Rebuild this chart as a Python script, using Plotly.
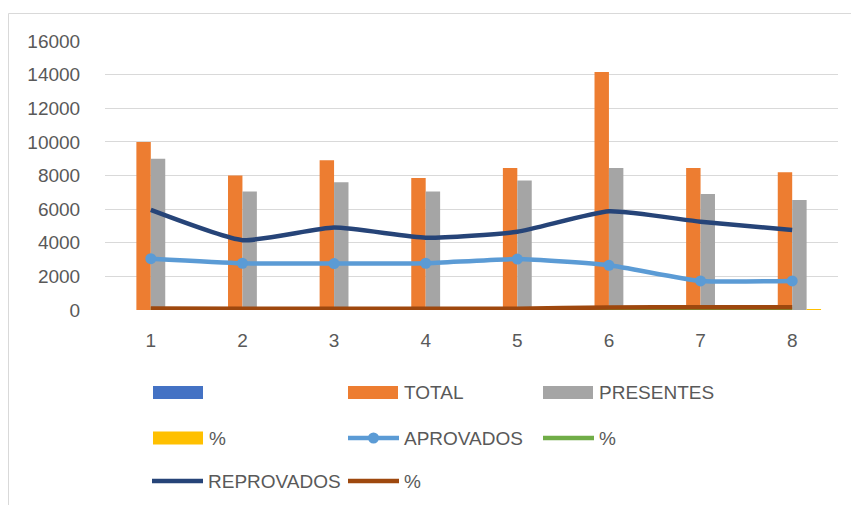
import plotly.graph_objects as go

# ---------------- data ----------------
categories = ["1", "2", "3", "4", "5", "6", "7", "8"]
serie_sem_nome = [0, 0, 0, 0, 0, 0, 0, 0]
total = [10000, 8000, 8900, 7850, 8450, 14150, 8450, 8200]
presentes = [9000, 7050, 7600, 7050, 7700, 8450, 6900, 6550]
pct_presentes = [0.90, 0.88, 0.85, 0.90, 0.91, 0.60, 0.82, 0.80]
aprovados = [3050, 2780, 2760, 2780, 3030, 2660, 1730, 1730]
pct_aprovados = [34, 39, 36, 39, 39, 31, 25, 26]
reprovados = [5950, 4150, 4900, 4300, 4650, 5870, 5250, 4760]
pct_reprovados = [90, 70, 70, 70, 80, 150, 160, 160]
y_ticks = [0, 2000, 4000, 6000, 8000, 10000, 12000, 14000, 16000]

names = ["", "TOTAL", "PRESENTES", "%", "APROVADOS", "%", "REPROVADOS", "%"]
colors = ["#4472C4", "#ED7D31", "#A5A5A5", "#FFC000", "#5B9BD5", "#70AD47", "#264478", "#9E480E"]

W, H = 851, 505
L, R, T, B = 105, 13, 41, 195
PW, PH = W - L - R, H - T - B

def px(x):
    return (x - L) / PW

def py(y):
    return (H - B - y) / PH

fig = go.Figure()

bar_series = [serie_sem_nome, total, presentes, pct_presentes]
for i, vals in enumerate(bar_series):
    fig.add_trace(go.Bar(x=categories, y=vals, name=names[i],
                         marker=dict(color=colors[i], line=dict(width=0)),
                         showlegend=False))

line_series = [(4, aprovados, True), (5, pct_aprovados, False),
               (6, reprovados, False), (7, pct_reprovados, False)]
for idx, vals, mk in line_series:
    fig.add_trace(go.Scatter(x=categories, y=vals, name=names[idx],
                             mode="lines+markers" if mk else "lines",
                             line=dict(color=colors[idx], width=4.5,
                                       shape="spline", smoothing=0.5),
                             marker=dict(size=11, color=colors[idx]),
                             showlegend=False))

font_family = "Liberation Sans, Arial, sans-serif"
txt_color = "#595959"

shapes = []
annotations = []

# chart border
shapes.append(dict(type="rect", xref="paper", yref="paper",
                   x0=px(8.5), x1=px(880), y0=py(530), y1=py(13.5),
                   line=dict(color="#D9D9D9", width=1), fillcolor="rgba(0,0,0,0)",
                   layer="below"))

# custom legend (Excel style)
legend_items = [
    ("bar", 153, 392.5, 0), ("bar", 348, 392.5, 1), ("bar", 543, 392.5, 2),
    ("bar", 153, 438, 3), ("mline", 346, 438, 4), ("line", 541, 438, 5),
    ("line", 150, 481, 6), ("line", 346, 481, 7),
]
for kind, x0, yc, idx in legend_items:
    c = colors[idx]
    if kind == "bar":
        shapes.append(dict(type="rect", xref="paper", yref="paper",
                           x0=px(x0), x1=px(x0 + 50), y0=py(yc + 6.5), y1=py(yc - 6.5),
                           fillcolor=c, line=dict(width=0)))
        tx = x0 + 55
    else:
        shapes.append(dict(type="line", xref="paper", yref="paper",
                           x0=px(x0 + 2), x1=px(x0 + 53), y0=py(yc), y1=py(yc),
                           line=dict(color=c, width=4.5)))
        if kind == "mline":
            shapes.append(dict(type="circle", xref="paper", yref="paper",
                               x0=px(x0 + 27.5 - 5.5), x1=px(x0 + 27.5 + 5.5),
                               y0=py(yc + 5.5), y1=py(yc - 5.5),
                               fillcolor=c, line=dict(width=0)))
        tx = x0 + 57
    if names[idx]:
        annotations.append(dict(xref="paper", yref="paper", x=px(tx), y=py(yc),
                                xanchor="left", yanchor="middle", showarrow=False,
                                text=names[idx], borderpad=0,
                                font=dict(family=font_family, size=19, color=txt_color)))

fig.update_layout(
    width=W, height=H,
    margin=dict(l=L, r=R, t=T, b=B),
    paper_bgcolor="white", plot_bgcolor="white",
    barmode="group", bargap=0.37, bargroupgap=0,
    showlegend=False,
    font=dict(family=font_family, size=19, color=txt_color),
    shapes=shapes, annotations=annotations,
    xaxis=dict(type="category", showgrid=False, showline=False, zeroline=False,
               ticks="outside", ticklen=13, tickcolor="rgba(0,0,0,0)",
               tickfont=dict(family=font_family, size=19, color=txt_color)),
    yaxis=dict(range=[0, 16000], tickvals=y_ticks, ticktext=[str(v) for v in y_ticks],
               showgrid=True, gridcolor="#D9D9D9", gridwidth=1,
               showline=False, zeroline=False,
               ticks="outside", ticklen=20, tickcolor="rgba(0,0,0,0)",
               tickfont=dict(family=font_family, size=19, color=txt_color)),
)

fig.write_html("out.html")
